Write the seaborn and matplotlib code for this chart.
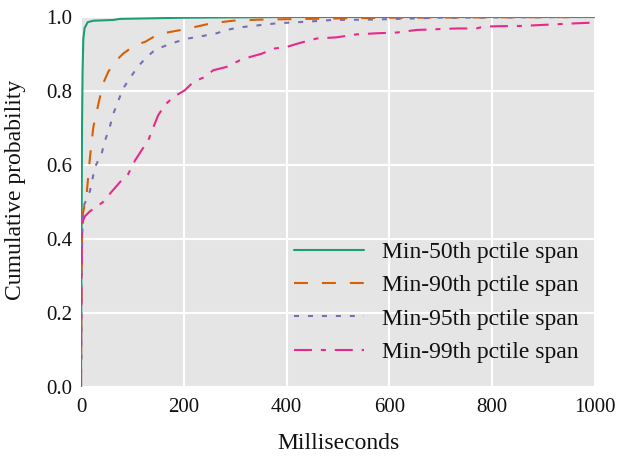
import numpy as np
import pandas as pd
import seaborn as sns
import matplotlib
matplotlib.use("Agg")
import matplotlib.pyplot as plt

# ---- data (ms, cumulative probability) ----
labels = ["Min-50th pctile span", "Min-90th pctile span",
          "Min-95th pctile span", "Min-99th pctile span"]

p50_ms = [0, 1, 2, 3, 4.5, 7, 13, 24, 63, 76, 200, 400, 1000]
p50_cdf = [0, 0.4, 0.7, 0.85, 0.94, 0.97, 0.986, 0.99, 0.992, 0.995, 0.998, 1.0, 1.0]

p90_ms = [0, 1, 2, 4, 8, 11, 17.5, 24, 34, 43, 53, 69, 82, 105, 125, 147, 167,
          199, 218, 254, 296, 350, 450, 600, 800, 1000]
p90_cdf = [0, 0.3, 0.42, 0.47, 0.5, 0.522, 0.621, 0.703, 0.766, 0.82, 0.852, 0.883,
           0.901, 0.924, 0.933, 0.951, 0.958, 0.966, 0.972, 0.983, 0.99, 0.993,
           0.995, 0.998, 0.999, 1.0]

p95_ms = [0, 1, 3, 4.5, 10, 17.5, 27, 40, 47, 56, 63, 73, 82, 95, 108, 125, 144,
          167, 186, 209, 238, 264, 283, 309, 348, 381, 436, 490, 565, 698, 1000]
p95_cdf = [0, 0.3, 0.44, 0.487, 0.505, 0.53, 0.594, 0.63, 0.667, 0.703, 0.739,
           0.775, 0.807, 0.834, 0.861, 0.888, 0.911, 0.924, 0.933, 0.942, 0.949,
           0.956, 0.965, 0.972, 0.978, 0.983, 0.987, 0.992, 0.993, 0.998, 1.0]

p99_ms = [0, 1, 2, 4, 8, 17.5, 27, 43, 56, 76, 92, 105, 118, 131, 141, 150, 163,
          180, 202, 219, 241, 257, 283, 309, 329, 352, 377, 400, 426, 459, 497,
          536, 575, 614, 653, 692, 731, 769, 783, 808, 860, 919, 964, 1000]
p99_cdf = [0, 0.3, 0.42, 0.45, 0.462, 0.475, 0.484, 0.5, 0.522, 0.554, 0.576,
           0.612, 0.64, 0.667, 0.703, 0.734, 0.762, 0.784, 0.802, 0.825, 0.838,
           0.856, 0.865, 0.883, 0.892, 0.901, 0.915, 0.919, 0.93, 0.942, 0.945,
           0.953, 0.956, 0.958, 0.965, 0.967, 0.969, 0.969, 0.974, 0.975, 0.976,
           0.98, 0.983, 0.985]

x_ticks = [0, 200, 400, 600, 800, 1000]
y_ticks = [0.0, 0.2, 0.4, 0.6, 0.8, 1.0]

frames = []
for lab, xs, ys in zip(labels, [p50_ms, p90_ms, p95_ms, p99_ms],
                       [p50_cdf, p90_cdf, p95_cdf, p99_cdf]):
    frames.append(pd.DataFrame({"ms": xs, "cdf": ys, "series": lab}))
df = pd.concat(frames, ignore_index=True)

sns.set_theme(style="darkgrid", rc={
    "axes.facecolor": "#e5e5e5",
    "grid.color": "white",
    "grid.linewidth": 1.5,
    "axes.edgecolor": "#e5e5e5",
    "text.color": "#111111",
    "axes.labelcolor": "#111111",
    "xtick.color": "#111111",
    "ytick.color": "#111111",
})
plt.rcParams["font.family"] = ["Liberation Serif", "DejaVu Serif"]

palette = dict(zip(labels, ["#1b9e77", "#d95f02", "#7570b3", "#e7298a"]))
dashes = dict(zip(labels, ["", (6.7, 6.7), (2.4, 4.3), (8.6, 4.3, 2.4, 4.3)]))

fig = plt.figure(figsize=(6.17, 4.57), dpi=100)
ax = fig.add_subplot(111)
fig.subplots_adjust(left=81/617, right=595/617, top=1-17/457, bottom=1-387/457)

sns.lineplot(data=df, x="ms", y="cdf", hue="series", style="series",
             palette=palette, dashes=dashes, estimator=None, sort=False,
             linewidth=1.5, ax=ax)

ax.set_xlim(0, 1000)
ax.set_ylim(0, 1.0)
ax.set_xticks(x_ticks)
ax.set_yticks(y_ticks)
ax.set_xticklabels([str(t) for t in x_ticks], fontsize=15)
ax.set_yticklabels([f"{t:.1f}" for t in y_ticks], fontsize=15)
ax.tick_params(axis="x", length=0, pad=8)
ax.tick_params(axis="y", length=0, pad=6)
ax.set_xlabel("Milliseconds", fontsize=17)
ax.set_ylabel("Cumulative probability", fontsize=17)
ax.xaxis.set_label_coords(0.5, -0.125)
ax.yaxis.set_label_coords(-0.107, 0.532)
for s in ax.spines.values():
    s.set_visible(False)

leg = ax.legend(loc="lower right", frameon=False, fontsize=17,
                handlelength=2.97, handletextpad=0.76, labelspacing=0.5,
                borderaxespad=0.3, bbox_to_anchor=(1.0, 0.02))
for h in leg.get_lines():
    h.set_linewidth(1.5)

fig.savefig("out.png", dpi=100)
